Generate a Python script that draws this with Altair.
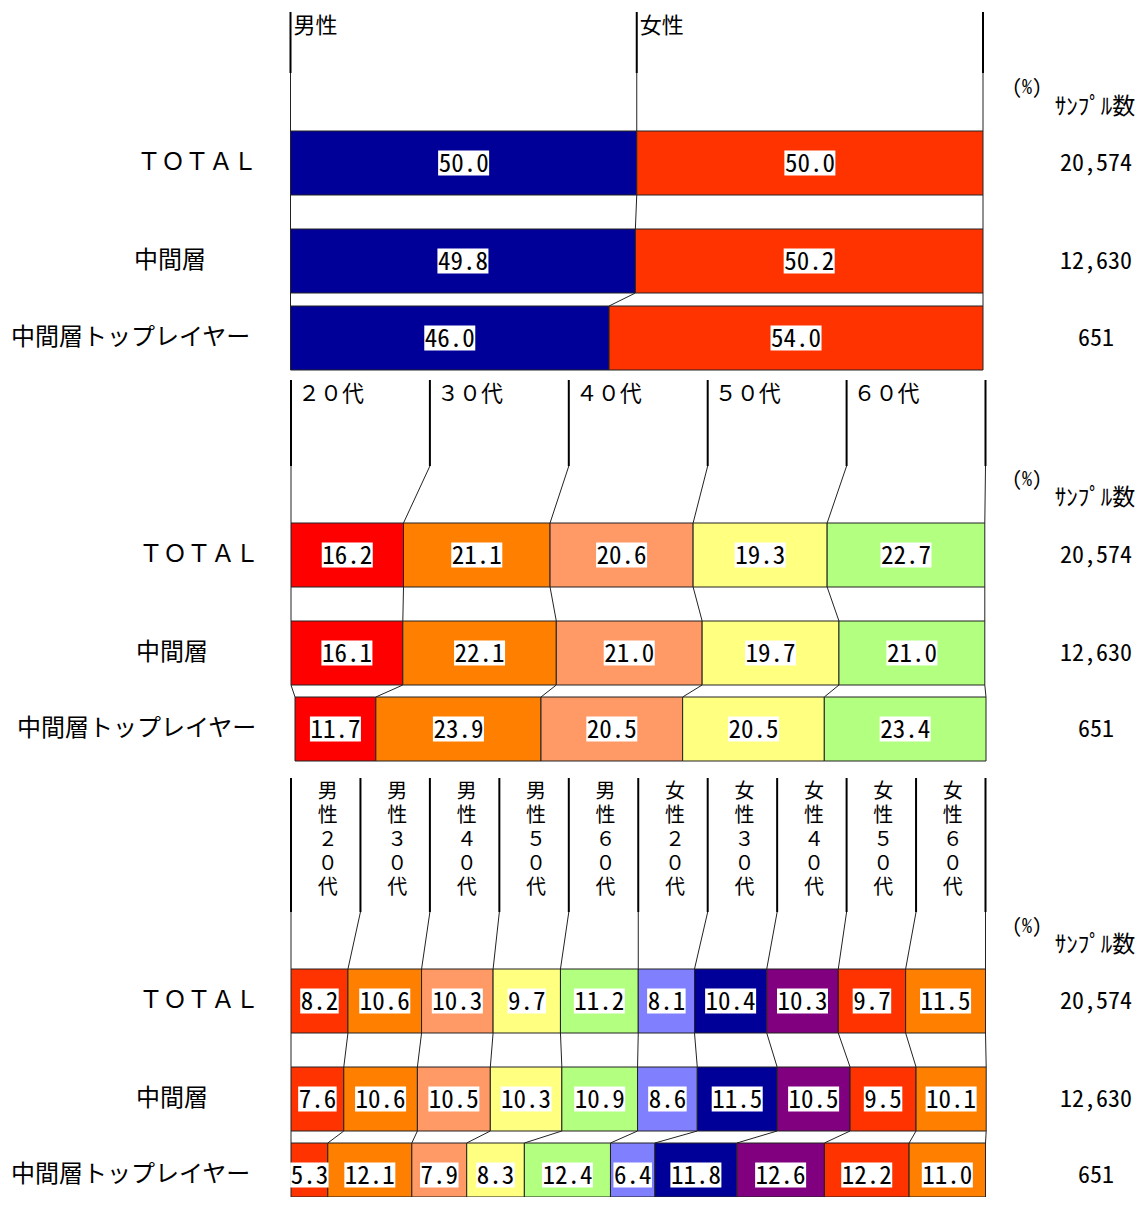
import altair as alt
import pandas as pd

# ---------------- data ----------------
row_labels = ["ＴＯＴＡＬ", "中間層", "中間層トップレイヤー"]
samples = ["20,574", "12,630", "651"]

gender_cats = ["男性", "女性"]
gender_vals = [[50.0, 50.0], [49.8, 50.2], [46.0, 54.0]]
gender_colors = ["#000099", "#FF3300"]

age_cats = ["２０代", "３０代", "４０代", "５０代", "６０代"]
age_vals = [
    [16.2, 21.1, 20.6, 19.3, 22.7],
    [16.1, 22.1, 21.0, 19.7, 21.0],
    [11.7, 23.9, 20.5, 20.5, 23.4],
]
age_colors = ["#FF0000", "#FF8000", "#FF9966", "#FFFF80", "#B3FF80"]

sa_cats = ["男性２０代", "男性３０代", "男性４０代", "男性５０代", "男性６０代",
           "女性２０代", "女性３０代", "女性４０代", "女性５０代", "女性６０代"]
sa_vals = [
    [8.2, 10.6, 10.3, 9.7, 11.2, 8.1, 10.4, 10.3, 9.7, 11.5],
    [7.6, 10.6, 10.5, 10.3, 10.9, 8.6, 11.5, 10.5, 9.5, 10.1],
    [5.3, 12.1, 7.9, 8.3, 12.4, 6.4, 11.8, 12.6, 12.2, 11.0],
]
sa_colors = ["#FF3300", "#FF8000", "#FF9966", "#FFFF80", "#B3FF80",
             "#8080FF", "#000099", "#800080", "#FF3300", "#FF8000"]

# ---------------- layout (pixels) ----------------
W, H = 1130, 1189
X0, K = 290.5, 6.945          # pixel of 0 % and pixels per 1 % of the shared x scale


def px2pct(p):
    return (p - X0) / K


panels = [
    dict(name="g", cats=gender_cats, vals=gender_vals, colors=gender_colors,
         span=(290.5, 983), rowspan=[None, None, None],
         htop=12, hbot=73, rows=[(131, 195), (229, 293), (306, 370)],
         pct_y=88, samp_y=106, lab_y=26, left=[137, 134, 11]),
    dict(name="a", cats=age_cats, vals=age_vals, colors=age_colors,
         span=(291, 985.5), rowspan=[None, None, (295, 986)],
         htop=380, hbot=466, rows=[(523, 587), (621, 685), (697, 761)],
         pct_y=480, samp_y=497, lab_y=394, left=[139, 136, 17]),
    dict(name="s", cats=sa_cats, vals=sa_vals, colors=sa_colors,
         span=(291, 985.5), rowspan=[None, None, None],
         htop=778, hbot=912, rows=[(969, 1033), (1067, 1131), (1143, 1207)],
         pct_y=927, samp_y=944, lab_y=792, left=[139, 136, 11]),
]

bars, labels, thick, thin, heads, vchars, lefts, samp, notes = [], [], [], [], [], [], [], [], []
keys, key_colors = [], []
for p in panels:
    n = len(p["cats"])
    for c, col in zip(p["cats"], p["colors"]):
        keys.append(p["name"] + c)
        key_colors.append(col)
    a, b = p["span"]
    pa, f = px2pct(a), (b - a) / (100 * K)
    bnd = [pa + k * 100.0 / n * f for k in range(n + 1)]
    cums = []
    for r, vals in enumerate(p["vals"]):
        y0, y1 = p["rows"][r]
        ra, rb = p["rowspan"][r] or p["span"]
        rpa, rf = px2pct(ra), (rb - ra) / (100 * K)
        acc = [0.0]
        for v in vals:
            acc.append(acc[-1] + v)
        cum = [rpa + c * rf for c in acc]
        cums.append(cum)
        for i, (c, v) in enumerate(zip(p["cats"], vals)):
            txt = f"{v:.1f}"
            mid = (cum[i] + cum[i + 1]) / 2
            hw = (12.5 * len(txt) + 1) / 2 / K
            bars.append(dict(x0=cum[i], x1=cum[i + 1], y0=y0, y1=min(y1, 1197), key=p["name"] + c))
            labels.append(dict(x=mid, bx0=mid - hw, bx1=mid + hw, y=(y0 + y1) / 2,
                               by0=(y0 + y1) / 2 - 12.5, by1=(y0 + y1) / 2 + 12.5, t=txt))
        lefts.append(dict(x=px2pct(p["left"][r]), y=(y0 + y1) / 2, t=row_labels[r]))
        samp.append(dict(x=px2pct(1096), y=(y0 + y1) / 2, t=samples[r]))
    for k in range(n + 1):
        thick.append(dict(x=bnd[k], x2=bnd[k], y=p["htop"], y2=p["hbot"]))
        thin.append(dict(x=bnd[k], x2=cums[0][k], y=p["hbot"], y2=p["rows"][0][0]))
        for r in range(len(cums) - 1):
            thin.append(dict(x=cums[r][k], x2=cums[r + 1][k],
                             y=p["rows"][r][1], y2=p["rows"][r + 1][0]))
    for k, c in enumerate(p["cats"]):
        if p["name"] == "s":
            for j, ch in enumerate(c):
                vchars.append(dict(x=(bnd[k] + bnd[k + 1]) / 2, y=p["lab_y"] + 24 * j, t=ch))
        else:
            heads.append(dict(panel=p["name"], xl=bnd[k], y=p["lab_y"], t=c))
    notes.append(dict(x=px2pct(1027), y=p["pct_y"], t="(%)", s=20))
    notes.append(dict(x=px2pct(1095), y=p["samp_y"] + 1, t="ｻﾝﾌﾟﾙ数", s=23))

xs = alt.Scale(domain=[px2pct(8), px2pct(8 + W)], nice=False, zero=False)
ys = alt.Scale(domain=[8, 8 + H], nice=False, zero=False, reverse=True)
JP = "Noto Sans CJK JP"
NUM = "Noto Sans Mono CJK JP, Noto Sans CJK JP, sans-serif"


def X(f):
    return alt.X(f, type="quantitative", scale=xs, axis=None)


def Y(f):
    return alt.Y(f, type="quantitative", scale=ys, axis=None)


bar_layer = alt.Chart(pd.DataFrame(bars)).mark_rect(stroke="#222222", strokeWidth=1).encode(
    x=X("x0"), x2="x1", y=Y("y0"), y2="y1",
    color=alt.Color("key:N", scale=alt.Scale(domain=keys, range=key_colors), legend=None),
)

thick_layer = alt.Chart(pd.DataFrame(thick)).mark_rule(color="#000000", strokeWidth=2).encode(
    x=X("x"), x2="x2", y=Y("y"), y2="y2")
thin_layer = alt.Chart(pd.DataFrame(thin)).mark_rule(color="#222222", strokeWidth=1).encode(
    x=X("x"), x2="x2", y=Y("y"), y2="y2")

lab_df = pd.DataFrame(labels)
box_layer = alt.Chart(lab_df).mark_rect(color="white").encode(
    x=X("bx0"), x2="bx1", y=Y("by0"), y2="by1")
val_layer = alt.Chart(lab_df).mark_text(font=NUM, fontSize=25, color="black",
                                        baseline="middle", align="center", dy=1).encode(
    x=X("x"), y=Y("y"), text="t:N")

head_df = pd.DataFrame(heads)
head_g = alt.Chart(head_df).transform_filter("datum.panel == 'g'").mark_text(
    font=JP, fontSize=22, align="left", baseline="middle", dx=3).encode(
    x=X("xl"), y=Y("y"), text="t:N")
head_a = alt.Chart(head_df).transform_filter("datum.panel == 'a'").mark_text(
    font=JP, fontSize=22, align="left", baseline="middle", dx=7).encode(
    x=X("xl"), y=Y("y"), text="t:N")
head_s = alt.Chart(pd.DataFrame(vchars)).mark_text(
    font=JP, fontSize=20, align="center", baseline="middle", dx=2).encode(
    x=X("x"), y=Y("y"), text="t:N")

left_layer = alt.Chart(pd.DataFrame(lefts)).mark_text(
    font=JP, fontSize=24, align="left", baseline="middle").encode(
    x=X("x"), y=Y("y"), text="t:N")
samp_layer = alt.Chart(pd.DataFrame(samp)).mark_text(
    font=NUM, fontSize=24, align="center", baseline="middle", dy=1).encode(
    x=X("x"), y=Y("y"), text="t:N")
note_df = pd.DataFrame(notes)
note_layer = alt.Chart(note_df).mark_text(font=NUM, align="center", baseline="middle").encode(
    x=X("x"), y=Y("y"), text="t:N", size=alt.Size("s:Q", scale=None, legend=None))

chart = alt.layer(
    thin_layer, thick_layer, bar_layer, box_layer, val_layer,
    head_g, head_a, head_s, left_layer, samp_layer, note_layer,
).properties(
    width=W, height=H,
    autosize=alt.AutoSizeParams(type="none"),
    padding=0,
).configure_view(stroke=None)

chart.save("out.html", embed_options={"renderer": "svg", "actions": False})
